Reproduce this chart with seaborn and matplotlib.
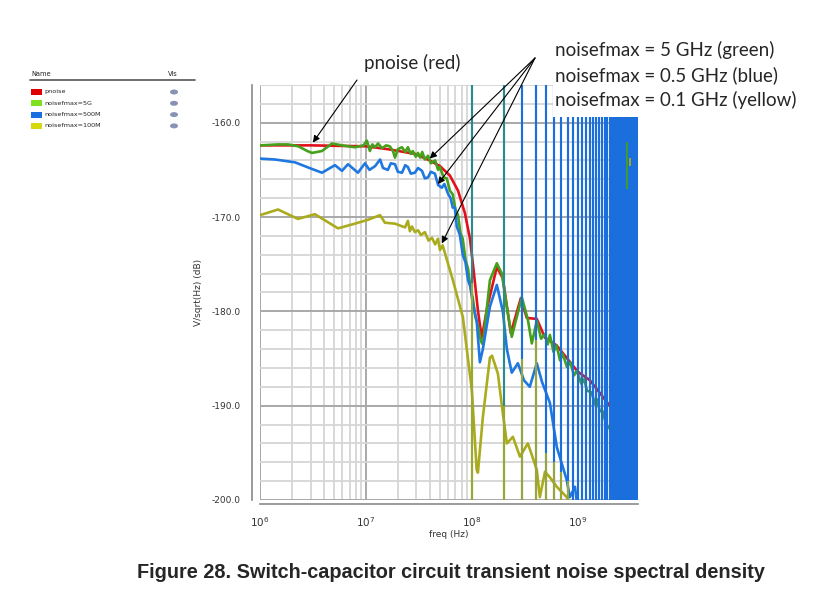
import numpy as np
import pandas as pd
import seaborn as sns
import matplotlib
matplotlib.use("Agg")
import matplotlib.pyplot as plt
from matplotlib.patches import Rectangle, Ellipse
from matplotlib.lines import Line2D
from matplotlib.ticker import FixedLocator, LogLocator, NullFormatter

# ---------------- data ----------------
series_names = ["pnoise", "noisefmax=5G", "noisefmax=500M", "noisefmax=100M"]

red_f = [1e6, 3e6, 1e7, 1.6e7, 2.9e7, 4.0e7, 5.0e7, 6.2e7, 7.4e7, 8.6e7, 9.6e7,
         1.04e8, 1.14e8, 1.24e8, 1.4e8, 1.72e8, 1.96e8, 2.33e8, 2.9e8, 3.3e8,
         4.1e8, 4.9e8, 6.3e8, 1.0e9, 1.3e9, 2.0e9, 2.5e9, 3.6e9]
red_db = [-162.4, -162.4, -162.5, -162.8, -163.3, -164.0, -164.6, -165.6, -167.2, -169.6, -172.3,
          -175.7, -179.9, -182.8, -179.5, -175.3, -176.5, -182.3, -178.6, -180.7,
          -180.8, -182.8, -183.6, -186.4, -187.3, -190.0, -191.4, -194.7]

green_f = [1e6, 1.48e6, 1.84e6, 2.3e6, 2.8e6, 3.09e6, 3.85e6, 4.78e6, 5.94e6, 7.87e6, 9.5e6,
           1.02e7, 1.09e7, 1.15e7, 1.22e7, 1.3e7, 1.42e7, 1.55e7, 1.68e7, 1.8e7, 1.88e7,
           2.0e7, 2.19e7, 2.35e7, 2.49e7, 2.65e7, 2.77e7, 2.95e7, 3.1e7, 3.25e7, 3.4e7,
           3.6e7, 3.85e7, 4.1e7, 4.5e7, 4.8e7, 5.0e7, 5.4e7, 5.8e7, 6.2e7, 6.6e7, 7.0e7,
           7.4e7, 7.8e7, 8.2e7, 8.7e7, 9.2e7, 9.7e7, 1.02e8, 1.08e8, 1.14e8,
           1.22e8, 1.27e8, 1.48e8, 1.72e8, 1.92e8, 2.14e8, 2.38e8, 2.96e8, 3.38e8, 3.68e8,
           4.1e8, 4.5e8, 4.9e8, 5.2e8, 5.45e8, 5.9e8, 6.3e8, 6.8e8, 7.2e8, 7.9e8, 8.5e8,
           9.2e8, 9.8e8, 1.08e9, 1.15e9, 1.22e9, 1.35e9, 1.45e9, 1.51e9, 1.62e9, 1.72e9,
           1.85e9, 2.0e9, 2.15e9, 2.33e9, 2.44e9]
green_db = [-162.4, -162.3, -162.3, -162.5, -163.0, -163.2, -163.0, -162.2, -162.4, -162.6, -162.4,
            -161.9, -163.0, -162.3, -162.6, -162.2, -162.7, -162.4, -162.5, -163.0, -163.7,
            -162.8, -162.6, -163.1, -162.6, -163.3, -163.0, -163.6, -163.2, -163.7, -163.1,
            -163.9, -163.5, -164.3, -164.0, -165.0, -164.7, -165.8, -165.9, -167.2, -167.6, -169.2,
            -169.8, -171.7, -172.3, -174.5, -175.5, -177.5, -178.6, -180.6, -181.5,
            -183.2, -183.5, -176.7, -174.9, -176.0, -179.6, -182.7, -178.5, -180.9, -183.4,
            -181.0, -182.9, -182.4, -183.5, -182.5, -184.3, -183.6, -185.2, -184.5, -185.9, -185.4,
            -186.8, -186.3, -187.7, -187.2, -188.4, -188.6, -189.8, -189.3, -190.6, -190.6,
            -192.0, -192.4, -193.8, -194.2, -195.8]

blue_f = [1e6, 1.39e6, 2.14e6, 3.09e6, 3.85e6, 5.1e6, 5.94e6, 6.77e6, 8.41e6, 9.79e6,
          1.08e7, 1.22e7, 1.36e7, 1.45e7, 1.61e7, 1.72e7, 1.88e7, 2.0e7, 2.19e7, 2.35e7,
          2.49e7, 2.65e7, 2.9e7, 3.1e7, 3.38e7, 3.6e7, 3.85e7, 4.1e7, 4.48e7, 4.8e7,
          5.2e7, 5.5e7, 5.94e7, 6.3e7, 6.6e7, 6.9e7, 7.2e7, 7.7e7, 8.2e7, 8.7e7, 9.2e7,
          9.7e7, 1.02e8, 1.11e8, 1.19e8, 1.27e8,
          1.48e8, 1.72e8, 1.96e8, 2.14e8, 2.38e8, 2.72e8, 3.1e8, 3.52e8, 4.1e8, 4.6e8,
          5.45e8, 6.34e8, 7.87e8, 8.41e8, 9.4e8, 1.0e9]
blue_db = [-163.8, -163.9, -164.2, -164.9, -165.3, -164.5, -165.1, -164.4, -165.3, -164.3,
           -165.0, -164.6, -163.9, -164.8, -165.0, -164.3, -164.4, -165.2, -165.3, -164.5,
           -164.7, -165.4, -165.3, -164.8, -165.1, -165.9, -165.8, -165.2, -165.4, -166.6,
           -166.9, -166.5, -167.5, -168.0, -169.0, -169.0, -171.0, -171.9, -174.0, -174.8, -176.7,
           -177.4, -179.2, -181.0, -185.4, -184.0,
           -179.5, -177.2, -180.0, -184.0, -186.5, -185.5, -187.3, -188.0, -185.5, -187.5,
           -189.7, -194.4, -197.9, -199.7, -198.6, -201.0]

yellow_f = [1e6, 1.48e6, 2.28e6, 3.3e6, 5.45e6, 7.87e6, 1.04e7, 1.36e7, 1.51e7, 1.88e7,
            2.34e7, 2.49e7, 2.6e7, 2.72e7, 2.9e7, 3.1e7, 3.3e7, 3.6e7, 3.9e7, 4.2e7, 4.5e7,
            4.78e7, 5.0e7, 5.3e7, 6.62e7, 8.22e7,
            1.0e8, 1.11e8, 1.14e8, 1.27e8, 1.48e8, 1.55e8, 1.76e8, 1.96e8, 2.14e8, 2.44e8,
            2.84e8, 3.38e8, 4.1e8, 4.38e8, 4.9e8, 5.45e8, 6.34e8, 7.87e8, 8.5e8]
yellow_db = [-169.8, -169.2, -170.2, -169.7, -171.2, -170.7, -170.3, -169.8, -170.6, -170.7,
             -171.1, -170.4, -171.5, -171.0, -171.6, -171.4, -171.9, -171.6, -172.5, -172.2, -172.9,
             -172.3, -173.5, -173.0, -176.7, -180.6,
             -188.4, -196.8, -197.1, -191.2, -184.9, -184.7, -186.6, -190.8, -194.0, -193.3,
             -195.4, -194.0, -196.8, -199.7, -197.0, -197.6, -198.6, -199.7, -201.0]

# spurs at multiples of the 100 MHz clock
spur_f = [n * 1e8 for n in range(1, 37)]
yellow_spur_f = [1e8, 2e8, 3e8, 4e8, 5e8, 6e8, 7e8, 8e8]
yellow_spur_top = [-177.0, -190.0, -185.0, -183.0, -195.0, -196.0, -197.0, -198.0]

ytick_vals = [-200, -190, -180, -170, -160]
xtick_vals = [1e6, 1e7, 1e8, 1e9]

line_colors = ["#e3101c", "#45a01c", "#1f78e0", "#abab1e"]
swatch_colors = ["#e00000", "#7fe020", "#1a70e0", "#d8d810"]

# ---------------- figure ----------------
W, H = 839, 600
fig = plt.figure(figsize=(W / 100, H / 100), dpi=100)
sns.set_style("white")
plt.rcParams["font.family"] = ["DejaVu Sans"]

def fx(x):
    return x / W

def fy(y):
    return 1 - y / H

ax = fig.add_axes([fx(260), fy(500), fx(638) - fx(260), fy(85) - fy(500)])

df = pd.concat([
    pd.DataFrame({"freq": red_f, "dB": red_db, "series": series_names[0]}),
    pd.DataFrame({"freq": green_f, "dB": green_db, "series": series_names[1]}),
    pd.DataFrame({"freq": blue_f, "dB": blue_db, "series": series_names[2]}),
    pd.DataFrame({"freq": yellow_f, "dB": yellow_db, "series": series_names[3]}),
], ignore_index=True)

sns.lineplot(data=df, x="freq", y="dB", hue="series", hue_order=series_names,
             palette=dict(zip(series_names, line_colors)), estimator=None,
             legend=False, linewidth=1.9, ax=ax, zorder=3)

ax.set_xscale("log")
ax.set_xlim(1e6, 3.7e9)
ax.set_ylim(-200, -156)

# spurs
spur_cols = ["#2b8a8e" if f < 2.5e8 else "#1a6fdc" for f in spur_f]
ax.vlines(spur_f, -200, -156, colors=spur_cols, linewidth=1.55, zorder=4)
ax.vlines(yellow_spur_f, -200, yellow_spur_top, colors=line_colors[3], linewidth=1.3, zorder=5)
ax.vlines([2.9e9], -167, -162, colors=line_colors[1], linewidth=1.3, zorder=5)
ax.vlines([3.1e9], -164.6, -163.7, colors=line_colors[3], linewidth=1.3, zorder=5)

# grid & ticks
ax.yaxis.set_major_locator(FixedLocator(ytick_vals))
ax.yaxis.set_minor_locator(FixedLocator(np.arange(-200, -155, 2)))
ax.set_yticklabels([f"{v:.1f}" for v in ytick_vals])
ax.xaxis.set_major_locator(FixedLocator(xtick_vals))
ax.xaxis.set_minor_locator(LogLocator(base=10, subs=np.arange(2, 10), numticks=20))
ax.xaxis.set_minor_formatter(NullFormatter())
ax.set_xticklabels([f"$10^{{{int(np.log10(v))}}}$" for v in xtick_vals])

ax.grid(which="major", color="#a8a8a8", linewidth=1.4, zorder=0)
ax.grid(which="minor", color="#d6d6d6", linewidth=1.3, zorder=0)
ax.set_axisbelow(True)

for s in ["top", "right"]:
    ax.spines[s].set_visible(False)
ax.spines["left"].set_position(("outward", 6))
ax.spines["bottom"].set_position(("outward", 3))
ax.spines["left"].set_color("#8a8a8a")
ax.spines["bottom"].set_color("#8a8a8a")
ax.spines["left"].set_linewidth(1.2)
ax.spines["bottom"].set_linewidth(1.2)
ax.tick_params(axis="both", which="major", length=5, width=1, color="#777777",
               labelsize=6.5, labelcolor="#333333", direction="out")
ax.tick_params(axis="both", which="minor", length=3, width=1, color="#777777", direction="out")
ax.tick_params(axis="y", pad=3)
ax.tick_params(axis="x", pad=3)
for lbl in ax.get_xticklabels():
    lbl.set_fontsize(7.5)

ax.set_xlabel("freq (Hz)", fontsize=6.5, color="#333333", labelpad=1)
ax.set_ylabel("V/sqrt(Hz) (dB)", fontsize=6.5, color="#333333", labelpad=6)

# annotations
arrow_kw = dict(arrowstyle="-|>", color="black", lw=0.8, mutation_scale=10, shrinkA=0, shrinkB=0)
ax.annotate("", xy=(3.16e6, -162.1), xycoords="data",
            xytext=(357, H - 80), textcoords="figure pixels", arrowprops=arrow_kw, zorder=8)
for tx, ty in [(4.0e7, -163.8), (4.78e7, -166.5), (5.2e7, -172.8)]:
    ax.annotate("", xy=(tx, ty), xycoords="data",
                xytext=(535, H - 58), textcoords="figure pixels", arrowprops=arrow_kw, zorder=8)

fig.text(fx(412), fy(63), "pnoise (red)", family="Lato", fontsize=13.5, ha="center", va="center")
fig.add_artist(Rectangle((fx(553), fy(117)), fx(805) - fx(553), fy(36) - fy(117),
                         transform=fig.transFigure, facecolor="white", edgecolor="none", zorder=5))
for i, t in enumerate(["noisefmax = 5 GHz (green)", "noisefmax = 0.5 GHz (blue)",
                       "noisefmax = 0.1 GHz (yellow)"]):
    fig.text(fx(555), fy(50 + 25 * i), t, family="Lato", fontsize=13.5, ha="left", va="center", zorder=6)

# legend panel (table style)
fig.text(fx(31), fy(74), "Name", fontsize=4.8, color="#222222", va="center")
fig.text(fx(168), fy(74), "Vis", fontsize=4.8, color="#222222", va="center")
fig.add_artist(Line2D([fx(30), fx(195)], [fy(80), fy(80)], transform=fig.transFigure,
                      color="#555555", linewidth=1.2))
for i, (name, c) in enumerate(zip(series_names, swatch_colors)):
    yy = 92 + 11.3 * i
    fig.add_artist(Rectangle((fx(31), fy(yy + 3)), fx(11), fy(0) - fy(6),
                             transform=fig.transFigure, facecolor=c, edgecolor="none"))
    fig.text(fx(44), fy(yy), name, fontsize=4.6, color="#222222", va="center")
    fig.add_artist(Ellipse((fx(174), fy(yy)), fx(8), fy(0) - fy(5),
                           transform=fig.transFigure, facecolor="#8793b5", edgecolor="none"))

# caption
fig.text(fx(451), fy(573), "Figure 28. Switch-capacitor circuit transient noise spectral density",
         family="Liberation Sans", fontweight="bold", fontsize=14.3, ha="center", va="center")

fig.savefig("out.png", dpi=100)
